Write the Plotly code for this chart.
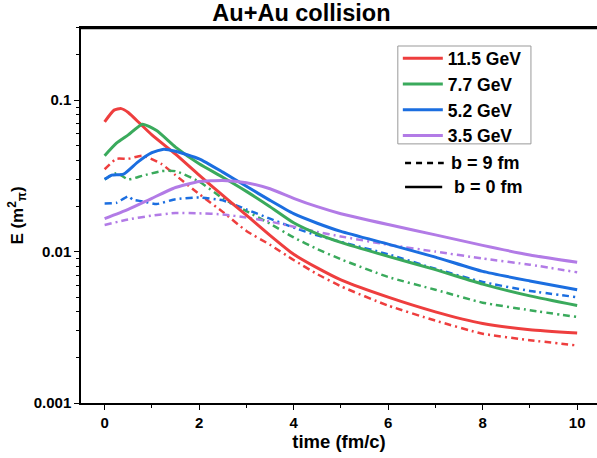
import plotly.graph_objects as go

# ---- data ----
t_red_b0 = [0, 0.2, 0.35, 0.5, 0.75, 1.0, 1.5, 2, 2.5, 3, 3.5, 4, 4.5, 5, 6, 7, 8, 9, 10]
e_red_b0 = [0.072, 0.086, 0.088, 0.083, 0.070, 0.059, 0.044, 0.032, 0.0235, 0.0174, 0.0128, 0.0096, 0.0078, 0.0065, 0.0050, 0.0040, 0.00335, 0.00305, 0.0029]

t_red_b9 = [0, 0.25, 0.5, 0.8, 1.2, 1.5, 2, 2.5, 3, 3.5, 4, 4.5, 5, 6, 7, 8, 9, 10]
e_red_b9 = [0.035, 0.041, 0.041, 0.043, 0.038, 0.032, 0.024, 0.0183, 0.0137, 0.0111, 0.0088, 0.0071, 0.0059, 0.0044, 0.0035, 0.00287, 0.0026, 0.0024]

t_green_b0 = [0, 0.25, 0.5, 0.8, 1.1, 1.5, 2, 2.5, 3, 3.5, 4, 4.5, 5, 6, 7, 8, 9, 10]
e_green_b0 = [0.043, 0.052, 0.059, 0.0695, 0.063, 0.049, 0.038, 0.031, 0.025, 0.0198, 0.0155, 0.0131, 0.0115, 0.0093, 0.0076, 0.0061, 0.0051, 0.0044]

t_green_b9 = [0, 0.25, 0.5, 0.8, 1.2, 1.5, 2, 2.5, 3, 3.5, 4, 4.5, 5, 6, 7, 8, 9, 10]
e_green_b9 = [0.030, 0.033, 0.030, 0.0317, 0.034, 0.034, 0.029, 0.0225, 0.0185, 0.0153, 0.0124, 0.0104, 0.0089, 0.0068, 0.0056, 0.0046, 0.0041, 0.0037]

t_blue_b0 = [0, 0.15, 0.4, 0.7, 1.0, 1.25, 1.5, 2, 2.5, 3, 3.5, 4, 4.5, 5, 6, 7, 8, 9, 10]
e_blue_b0 = [0.030, 0.032, 0.0325, 0.039, 0.045, 0.0475, 0.046, 0.041, 0.0335, 0.027, 0.0218, 0.0178, 0.0154, 0.0136, 0.0112, 0.0092, 0.0074, 0.0064, 0.0056]

t_blue_b9 = [0, 0.25, 0.5, 0.6, 0.8, 1.1, 1.5, 2, 2.5, 3, 3.5, 4, 4.5, 5, 6, 7, 8, 9, 10]
e_blue_b9 = [0.0208, 0.021, 0.0232, 0.022, 0.0215, 0.0206, 0.0222, 0.0228, 0.0218, 0.019, 0.0165, 0.0144, 0.0128, 0.0116, 0.0096, 0.0077, 0.0063, 0.0055, 0.0050]

t_purple_b0 = [0, 0.5, 1, 1.5, 2, 2.5, 3, 3.5, 4, 4.5, 5, 6, 7, 8, 9, 10]
e_purple_b0 = [0.0165, 0.019, 0.0225, 0.0265, 0.029, 0.0295, 0.0285, 0.026, 0.0225, 0.0198, 0.0178, 0.0151, 0.0129, 0.0110, 0.0095, 0.0085]

t_purple_b9 = [0, 0.5, 1, 1.5, 2, 2.5, 3, 3.5, 4, 4.5, 5, 6, 7, 8, 9, 10]
e_purple_b9 = [0.015, 0.0163, 0.0173, 0.018, 0.0179, 0.0176, 0.0168, 0.0158, 0.0146, 0.0135, 0.0126, 0.0111, 0.0100, 0.0090, 0.0082, 0.0073]

energies = ["11.5 GeV", "7.7 GeV", "5.2 GeV", "3.5 GeV"]
y_tick_vals = [0.001, 0.01, 0.1]
y_tick_text = ["0.001", "0.01", "0.1"]
x_tick_vals = [0, 2, 4, 6, 8, 10]

colors = ["#ee3e3e", "#3aaa5c", "#1b6ee0", "#b27be6"]

series_b0 = [(t_red_b0, e_red_b0), (t_green_b0, e_green_b0), (t_blue_b0, e_blue_b0), (t_purple_b0, e_purple_b0)]
series_b9 = [(t_red_b9, e_red_b9), (t_green_b9, e_green_b9), (t_blue_b9, e_blue_b9), (t_purple_b9, e_purple_b9)]

FONT = "Liberation Sans"

fig = go.Figure()
for (t, e), c, name in zip(series_b9, colors, energies):
    fig.add_trace(go.Scatter(x=t, y=e, mode="lines", name=name, showlegend=False,
                             line=dict(color=c, width=2.5, dash="7px,4px,2px,4px", shape="spline", smoothing=0.5)))
for (t, e), c, name in zip(series_b0, colors, energies):
    fig.add_trace(go.Scatter(x=t, y=e, mode="lines", name="<b>%s</b>" % name,
                             line=dict(color=c, width=3, shape="spline", smoothing=0.5)))

fig.update_layout(
    width=597, height=458,
    margin=dict(l=81, r=0, t=28, b=55),
    paper_bgcolor="white", plot_bgcolor="white",
    font=dict(family=FONT, color="black"),
    title=dict(text="<b>Au+Au collision</b>", x=0.505, xanchor="center", y=0.972, yanchor="middle",
               font=dict(size=23.5, family=FONT, color="black")),
    legend=dict(x=0.614, y=0.967, xanchor="left", yanchor="top",
                borderwidth=0, bgcolor="rgba(0,0,0,0)", itemwidth=40,
                font=dict(size=17.5, family=FONT, color="black"),
                traceorder="normal", tracegroupgap=0),
)
fig.update_xaxes(
    range=[-0.5, 10.42], showgrid=False, zeroline=False, automargin=False,
    showline=True, linecolor="black", linewidth=1.5, mirror=True,
    ticks="outside", ticklen=5, tickwidth=1.3, tickcolor="black",
    tickvals=x_tick_vals, ticktext=["<b>%d</b>" % v for v in x_tick_vals],
    minor=dict(dtick=1, tick0=0, ticks="outside", ticklen=3, tickcolor="black", showgrid=False),
    tickfont=dict(size=15, family=FONT, color="black"),
    title=dict(text="<b>time (fm/c)</b>", font=dict(size=18.5, family=FONT, color="black"), standoff=2),
)
fig.update_yaxes(
    type="log", range=[-3, -0.523], showgrid=False, zeroline=False, automargin=False,
    showline=True, linecolor="black", linewidth=1.5, mirror=False,
    ticks="outside", ticklen=5, tickwidth=1.3, tickcolor="black",
    tickvals=y_tick_vals, ticktext=["<b>%s</b>" % s for s in y_tick_text],
    minor=dict(dtick="D1", ticks="outside", ticklen=3, tickcolor="black", showgrid=False),
    tickfont=dict(size=15, family=FONT, color="black"),
    title=dict(text="<b>E (m<sup>2</sup><sub>π</sub>)</b>", font=dict(size=17, family=FONT, color="black"), standoff=6),
)

# top frame line
fig.add_shape(type="line", xref="paper", yref="paper", x0=0, x1=1, y0=0.999, y1=0.999,
              layer="above", line=dict(color="black", width=1.5))
# legend box
fig.add_shape(type="rect", xref="paper", yref="paper", x0=0.614, x1=0.872, y0=0.691, y1=0.952,
              line=dict(color="#999999", width=1), fillcolor="rgba(0,0,0,0)")

# b legend (outside the box)
fig.add_shape(type="line", xref="paper", yref="paper", x0=0.628, x1=0.703, y0=0.64, y1=0.64,
              line=dict(color="black", width=2.5, dash="6px,5px"))
fig.add_shape(type="line", xref="paper", yref="paper", x0=0.628, x1=0.700, y0=0.576, y1=0.576,
              line=dict(color="black", width=2.5))
fig.add_annotation(xref="paper", yref="paper", x=0.714, y=0.64, xanchor="left", yanchor="middle",
                   text="<b>b = 9 fm</b>", showarrow=False, font=dict(size=18, family=FONT, color="black"))
fig.add_annotation(xref="paper", yref="paper", x=0.719, y=0.576, xanchor="left", yanchor="middle",
                   text="<b>b = 0 fm</b>", showarrow=False, font=dict(size=18, family=FONT, color="black"))

fig.write_html("out.html", config={"displayModeBar": False},
               post_script="document.body.style.margin='0';document.body.style.overflow='hidden';")
